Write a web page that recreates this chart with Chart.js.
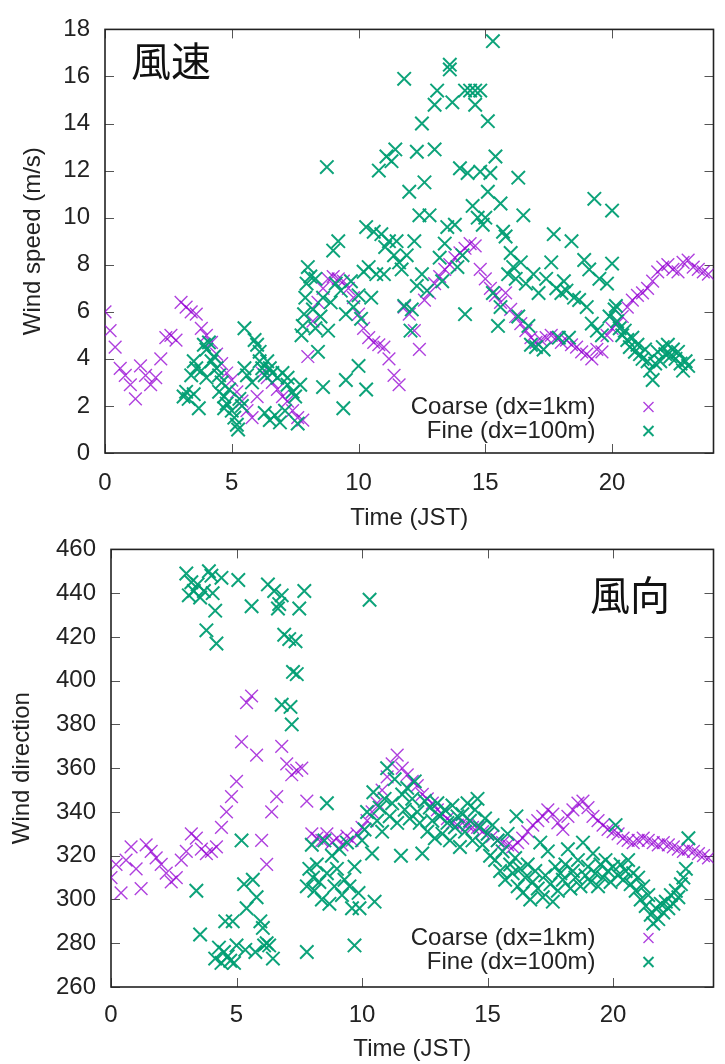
<!DOCTYPE html>
<html>
<head>
<meta charset="utf-8">
<script src="https://cdn.jsdelivr.net/npm/chart.js@4.4.1/dist/chart.umd.min.js"></script>
<style>
  html, body { margin: 0; padding: 0; background: #fff; }
  #wrap { position: relative; width: 725px; height: 1064px; }
  canvas { position: absolute; left: 0; }
  #speedChart { top: 0; }
  #dirChart { top: 520px; }
</style>
</head>
<body>
<div id="wrap">
  <canvas id="speedChart" width="725" height="533"></canvas>
  <canvas id="dirChart" width="725" height="544"></canvas>
</div>
<script>
// time axis of the coarse run (JST hours)
const timeGrid = [
  0.0, 0.2, 0.4, 0.6, 0.8, 1.0, 1.2, 1.4, 1.6, 1.8,
  2.0, 2.2, 2.4, 2.6, 2.8, 3.0, 3.2, 3.4, 3.6, 3.8,
  4.0, 4.2, 4.4, 4.6, 4.8, 5.0, 5.2, 5.4, 5.6, 5.8,
  6.0, 6.2, 6.4, 6.6, 6.8, 7.0, 7.2, 7.4, 7.6, 7.8,
  8.0, 8.2, 8.4, 8.6, 8.8, 9.0, 9.2, 9.4, 9.6, 9.8,
  10.0, 10.2, 10.4, 10.6, 10.8, 11.0, 11.2, 11.4, 11.6, 11.8,
  12.0, 12.2, 12.4, 12.6, 12.8, 13.0, 13.2, 13.4, 13.6, 13.8,
  14.0, 14.2, 14.4, 14.6, 14.8, 15.0, 15.2, 15.4, 15.6, 15.8,
  16.0, 16.2, 16.4, 16.6, 16.8, 17.0, 17.2, 17.4, 17.6, 17.8,
  18.0, 18.2, 18.4, 18.6, 18.8, 19.0, 19.2, 19.4, 19.6, 19.8,
  20.0, 20.2, 20.4, 20.6, 20.8, 21.0, 21.2, 21.4, 21.6, 21.8,
  22.0, 22.2, 22.4, 22.6, 22.8, 23.0, 23.2, 23.4, 23.6, 23.8
];

// Coarse (dx=1km) wind speed, m/s
const coarseSpeed = [
  6.0, 5.2, 4.5, 3.6, 3.3, 2.9, 2.3, 3.7, 3.3, 2.9,
  3.2, 4.0, 4.9, 5.0, 4.8, 6.4, 6.2, 6.0, 5.9, 5.3,
  5.0, 4.7, 4.2, 3.8, 3.4, 3.1, 2.6, 2.2, 1.8, 1.5,
  2.4, 3.4, 3.2, 3.0, 2.7, 2.4, 2.2, 1.8, 1.5, 1.4,
  4.1, 5.6, 6.4, 7.0, 7.4, 7.5, 7.4, 7.3, 7.0, 6.6,
  5.9, 5.3, 4.9, 4.7, 4.6, 4.5, 4.0, 3.3, 2.9, 6.2,
  5.9, 5.2, 4.4, 6.5, 6.8, 7.2, 7.5, 7.8, 8.0, 8.3,
  8.5, 8.7, 8.9, 8.8, 7.8, 7.4, 7.0, 6.7, 6.4, 6.8,
  6.1, 5.8, 5.5, 5.2, 4.9, 4.7, 4.8, 4.9, 5.0, 4.9,
  4.7, 4.8, 4.6, 4.5, 4.3, 4.2, 4.0, 4.4, 4.3, 5.0,
  5.3, 5.5, 5.8, 6.2, 6.5, 6.7, 6.8, 7.0, 7.3, 7.7,
  7.9, 8.0, 7.8, 7.7, 8.1, 8.2, 7.9, 7.8, 7.7, 7.6
];

// Coarse (dx=1km) wind direction, degrees
const coarseDir = [
  310, 316, 303, 318, 324, 314, 305, 325, 322, 319,
  316, 312, 308, 310, 318, 322, 330, 328, 323, 321,
  322, 324, 333, 340, 347, 354, 372, 390, 393, 366,
  327, 316, 340, 347, 370, 362, 357, 359, 360, 345,
  330, 328, 327, 330, 326, 328, 325, 329, 327, 330,
  333, 336, 340, 344, 350, 356, 362, 366, 360, 357,
  354, 352, 348, 346, 344, 341, 339, 337, 335, 334,
  335, 334, 333, 333, 331, 330, 329, 327, 326, 325,
  324, 326, 328, 331, 334, 336, 338, 341, 339, 335,
  332, 338, 341, 344, 345, 342, 338, 336, 334, 332,
  331, 330, 328, 327, 326, 327, 328, 327, 326, 325,
  326, 325, 324, 323, 322, 323, 322, 321, 320, 319
];

// Fine (dx=100m) wind speed, [time, m/s]
const fineSpeed = [
  [3.1, 2.4], [3.2, 2.6], [3.3, 2.3], [3.5, 2.5], [3.7, 1.9], [3.4, 3.3], [3.5, 3.9], [3.6, 3.6],
  [3.8, 3.5], [3.9, 4.6], [4.0, 4.4], [4.1, 4.7], [4.0, 3.2], [4.2, 3.9], [4.3, 4.1], [4.4, 3.6],
  [4.5, 3.3], [4.5, 2.6], [4.6, 3.0], [4.7, 2.4], [4.8, 2.1], [4.9, 2.7], [5.0, 1.8], [5.1, 1.5],
  [5.2, 1.2], [5.25, 1.0], [4.7, 1.9], [5.3, 2.3], [5.4, 2.0], [5.5, 5.3], [5.5, 3.6], [5.6, 3.3],
  [5.8, 3.0], [5.9, 4.8], [6.0, 4.6], [6.1, 4.3], [6.1, 3.9], [6.2, 3.6], [6.3, 3.3], [6.4, 3.9],
  [6.5, 3.6], [6.6, 3.4], [6.8, 3.2], [7.0, 3.4], [7.2, 3.2], [6.3, 1.7], [6.5, 1.4], [6.7, 1.6],
  [6.9, 1.3], [7.1, 1.8], [7.2, 2.9], [7.4, 2.6], [7.5, 2.4], [7.6, 1.25], [7.7, 2.9],
  [7.75, 5.0], [7.8, 5.4], [7.85, 5.9], [7.9, 6.6], [7.95, 7.2], [8.0, 7.9], [8.1, 7.5], [8.2, 6.1],
  [8.3, 5.3], [8.3, 7.4], [8.4, 4.3], [8.5, 5.8], [8.6, 2.8], [8.6, 6.6], [8.75, 12.15], [8.8, 5.2],
  [8.9, 6.4], [9.0, 8.6], [9.1, 7.2], [9.2, 9.0], [9.3, 6.9], [9.4, 1.9], [9.5, 3.1], [9.5, 5.9],
  [9.7, 7.3], [9.8, 6.2], [10.0, 3.7], [10.0, 6.7], [10.1, 5.7],
  [10.2, 7.7], [10.3, 2.7], [10.3, 9.6], [10.4, 7.9], [10.5, 6.6], [10.6, 9.4], [10.7, 7.6], [10.8, 12.0],
  [10.9, 9.3], [11.0, 7.6], [11.05, 8.75], [11.1, 12.6], [11.2, 9.0], [11.3, 12.4], [11.4, 8.4], [11.45, 12.9],
  [11.5, 9.0], [11.6, 8.1], [11.7, 7.8], [11.8, 15.9], [11.8, 6.25], [11.9, 8.4], [12.0, 11.1], [12.05, 5.2],
  [12.1, 6.1], [12.2, 9.0], [12.3, 12.8], [12.3, 7.1], [12.4, 10.1], [12.5, 14.0], [12.5, 7.6], [12.6, 11.5],
  [12.7, 6.9], [12.8, 10.1],
  [13.0, 14.8], [13.0, 12.9], [13.1, 15.4], [13.2, 8.3], [13.3, 7.3], [13.4, 8.9], [13.5, 9.6], [13.6, 16.5],
  [13.6, 16.3], [13.7, 14.9], [13.8, 9.7], [13.9, 7.9], [14.0, 12.1], [14.1, 8.4], [14.2, 15.4], [14.2, 5.9],
  [14.3, 11.9], [14.4, 15.4], [14.5, 10.5], [14.6, 14.8], [14.6, 15.4], [14.7, 10.0], [14.8, 11.95], [14.8, 15.4],
  [14.9, 9.7], [15.0, 10.0], [15.1, 14.1], [15.1, 11.1], [15.2, 11.9], [15.3, 17.5], [15.3, 6.8], [15.4, 12.6],
  [15.5, 5.4], [15.6, 10.6], [15.6, 6.2],
  [15.7, 9.4], [15.8, 9.2], [15.9, 7.6], [16.0, 8.5], [16.1, 7.9], [16.2, 7.4], [16.3, 11.7], [16.3, 5.8],
  [16.4, 8.1], [16.5, 10.1], [16.6, 7.2], [16.7, 5.4], [16.8, 4.6], [16.9, 7.6], [17.0, 4.5], [17.1, 6.8],
  [17.3, 4.4], [17.4, 7.4], [17.6, 8.1], [17.7, 9.3], [17.8, 7.0], [17.9, 4.9], [18.0, 6.8], [18.1, 7.3],
  [18.2, 6.9], [18.3, 4.9], [18.4, 9.0], [18.5, 6.6], [18.7, 6.5], [18.9, 8.2], [19.0, 6.2], [19.1, 7.8],
  [19.2, 5.5], [19.3, 10.8], [19.4, 5.2], [19.5, 7.4], [19.6, 5.0], [19.8, 7.2], [19.9, 5.8], [20.0, 10.3],
  [20.0, 8.05],
  [20.1, 6.1], [20.15, 6.25], [20.2, 5.6], [20.3, 5.3], [20.4, 5.0], [20.5, 5.2], [20.6, 4.8], [20.7, 4.5],
  [20.8, 4.9], [20.9, 4.3], [21.0, 4.6], [21.1, 4.2], [21.2, 4.0], [21.3, 4.4], [21.4, 3.9], [21.5, 3.5],
  [21.6, 3.1], [21.7, 3.8], [21.8, 4.3], [21.9, 3.9], [22.0, 4.5], [22.1, 4.2], [22.2, 4.6], [22.3, 4.1],
  [22.4, 4.4], [22.5, 4.0], [22.6, 4.3], [22.7, 3.8], [22.8, 3.5], [22.9, 3.9], [23.0, 3.7]
];

// Fine (dx=100m) wind direction, [time, degrees]
const fineDir = [
  [3.0, 449], [3.1, 439], [3.2, 445], [3.3, 441], [3.45, 444], [3.55, 438], [3.7, 441], [3.8, 423],
  [3.9, 450], [4.0, 448], [4.05, 440], [4.15, 432], [4.2, 417], [4.4, 447], [5.07, 446], [5.6, 434],
  [6.25, 444], [6.5, 441], [6.65, 433], [6.7, 435], [6.8, 439], [6.9, 421], [7.1, 419], [7.15, 388],
  [7.2, 380], [7.25, 404], [7.35, 418], [7.4, 403], [7.5, 433], [7.7, 441], [6.8, 389],
  [3.4, 304], [3.55, 284], [4.15, 273], [4.3, 278], [4.4, 271], [4.5, 276], [4.55, 290], [4.65, 274],
  [4.75, 272], [4.85, 290], [4.9, 271], [5.0, 279], [5.2, 327], [5.3, 307], [5.35, 277], [5.4, 296],
  [5.65, 309], [5.75, 276], [5.8, 301], [5.95, 290], [6.05, 287], [6.1, 279], [6.2, 280], [6.3, 279],
  [6.45, 273], [7.8, 276],
  [7.8, 306], [7.9, 314], [8.0, 325], [8.05, 310], [8.1, 304], [8.2, 316], [8.3, 308], [8.4, 300],
  [8.5, 327], [8.6, 344], [8.6, 312], [8.7, 298], [8.8, 320], [8.9, 306], [9.0, 314], [9.1, 323],
  [9.2, 302], [9.3, 309], [9.4, 326], [9.5, 306], [9.6, 296], [9.7, 279], [9.7, 315], [9.86, 303],
  [9.9, 296], [10.0, 327],
  [10.1, 332], [10.2, 340], [10.3, 437], [10.4, 321], [10.45, 349], [10.5, 299], [10.6, 336], [10.7, 342],
  [10.8, 331], [10.9, 346], [11.0, 360], [11.1, 338], [11.2, 344], [11.3, 355], [11.4, 335], [11.55, 320],
  [11.6, 348], [11.7, 341], [11.8, 351], [11.9, 337], [12.0, 346], [12.1, 354], [12.2, 340], [12.3, 335],
  [12.4, 321], [12.5, 345], [12.6, 331], [12.7, 342], [12.8, 336], [12.9, 328], [13.0, 344], [13.1, 338],
  [13.2, 330], [13.3, 341], [13.4, 335], [13.5, 327], [13.6, 343], [13.7, 333], [13.8, 338], [13.9, 324],
  [14.0, 339], [14.1, 331], [14.2, 344], [14.3, 336], [14.4, 327], [14.5, 341], [14.6, 346], [14.7, 333],
  [14.8, 325], [14.9, 337],
  [15.0, 330], [15.1, 320], [15.2, 334], [15.3, 318], [15.4, 327], [15.5, 313], [15.6, 322], [15.7, 309],
  [15.8, 330], [15.9, 316], [16.0, 312], [16.1, 319], [16.15, 338], [16.2, 306], [16.3, 314], [16.4, 303],
  [16.5, 310], [16.6, 316], [16.7, 300], [16.8, 308], [16.9, 313], [17.0, 305], [17.1, 326], [17.2, 301],
  [17.3, 311], [17.4, 322], [17.5, 307], [17.6, 299], [17.7, 315], [17.8, 304], [17.9, 312], [18.0, 309],
  [18.1, 316], [18.2, 323], [18.3, 305], [18.4, 313], [18.5, 310], [18.6, 318], [18.7, 306], [18.8, 326],
  [18.9, 311], [19.0, 315], [19.1, 308], [19.2, 321], [19.3, 312], [19.4, 306], [19.5, 316], [19.6, 310],
  [19.7, 318], [19.8, 313], [19.9, 308], [20.0, 315], [20.1, 334], [20.2, 311], [20.3, 316], [20.4, 309],
  [20.5, 313], [20.6, 318], [20.7, 307], [20.8, 312], [20.9, 304], [21.0, 310], [21.1, 300], [21.2, 306],
  [21.3, 297], [21.4, 302], [21.5, 293], [21.6, 289], [21.7, 296], [21.8, 291], [21.9, 298], [22.0, 294],
  [22.1, 299], [22.2, 296], [22.3, 302], [22.4, 298], [22.5, 304], [22.6, 301], [22.7, 307], [22.8, 310],
  [22.9, 314], [23.0, 328]
];

const timeTicks = [0, 5, 10, 15, 20];
const speedTicks = [0, 2, 4, 6, 8, 10, 12, 14, 16, 18];
const dirTicks = [260, 280, 300, 320, 340, 360, 380, 400, 420, 440, 460];
const seriesNames = ['Coarse (dx=1km)', 'Fine (dx=100m)'];

const PURPLE = 'rgba(148, 0, 211, 0.75)';
const GREEN = 'rgba(0, 158, 115, 0.95)';
const FONT = '"Liberation Sans", Arial, sans-serif';
const TEXT = '#222';

function drawX(ctx, x, y, r, color, width) {
  ctx.strokeStyle = color;
  ctx.lineWidth = width;
  ctx.beginPath();
  ctx.moveTo(x - r, y - r); ctx.lineTo(x + r, y + r);
  ctx.moveTo(x - r, y + r); ctx.lineTo(x + r, y - r);
  ctx.stroke();
}

// gnuplot style frame: box, inward ticks on all sides, key and corner label
const frame = {
  id: 'frame',
  beforeDatasetsDraw(chart) {
    const {ctx, chartArea: a, scales: {x, y}} = chart;
    ctx.save();
    ctx.strokeStyle = '#555';
    ctx.lineWidth = 1;
    ctx.beginPath();
    x.ticks.forEach(t => {
      const px = Math.round(x.getPixelForValue(t.value)) + 0.5;
      ctx.moveTo(px, a.bottom); ctx.lineTo(px, a.bottom - 9);
      ctx.moveTo(px, a.top); ctx.lineTo(px, a.top + 9);
    });
    y.ticks.forEach(t => {
      const py = Math.round(y.getPixelForValue(t.value)) + 0.5;
      ctx.moveTo(a.left, py); ctx.lineTo(a.left + 9, py);
      ctx.moveTo(a.right, py); ctx.lineTo(a.right - 9, py);
    });
    ctx.stroke();
    ctx.strokeStyle = '#222';
    ctx.lineWidth = 1.6;
    ctx.strokeRect(a.left, a.top, a.right - a.left, a.bottom - a.top);
    ctx.restore();
  },
  afterDatasetsDraw(chart, args, opts) {
    const {ctx, chartArea: a} = chart;
    ctx.save();
    ctx.font = '24px ' + FONT;
    ctx.fillStyle = TEXT;
    ctx.textAlign = 'right';
    ctx.textBaseline = 'middle';
    const rows = [[PURPLE, 1.4], [GREEN, 2]];
    seriesNames.forEach((name, i) => {
      const yy = a.bottom - opts.keyBottom + i * 24;
      ctx.fillText(name, a.right - 118, yy);
      drawX(ctx, a.right - 65, yy, 5, rows[i][0], rows[i][1]);
    });
    ctx.font = '40px "Noto Sans CJK JP", sans-serif';
    ctx.textAlign = 'left';
    ctx.fillStyle = '#111';
    ctx.fillText(opts.label, opts.labelX, opts.labelY);
    ctx.restore();
  }
};

function makeChart(id, cfg) {
  const ctx = document.getElementById(id).getContext('2d');
  return new Chart(ctx, {
    type: 'scatter',
    data: {
      datasets: [{
        label: seriesNames[1],
        data: cfg.fine.map(p => ({x: p[0], y: p[1]})),
        pointStyle: 'crossRot',
        pointRadius: 9.5,
        pointBorderWidth: 2,
        borderColor: GREEN,
        backgroundColor: GREEN
      }, {
        label: seriesNames[0],
        data: timeGrid.map((t, i) => ({x: t, y: cfg.coarse[i]})),
        pointStyle: 'crossRot',
        pointRadius: 9,
        pointBorderWidth: 1.4,
        borderColor: PURPLE,
        backgroundColor: PURPLE
      }]
    },
    options: {
      responsive: false,
      devicePixelRatio: 1,
      animation: false,
      events: [],
      layout: { padding: cfg.padding },
      plugins: {
        legend: { display: false },
        tooltip: { enabled: false },
        frame: cfg.frame
      },
      scales: {
        x: {
          type: 'linear',
          min: 0,
          max: 24,
          afterBuildTicks: axis => { axis.ticks = timeTicks.map(v => ({value: v})); },
          afterFit: axis => { axis.height = cfg.xHeight; },
          grid: { display: false, drawTicks: false },
          border: { display: false },
          ticks: { color: TEXT, font: { family: FONT, size: 24 }, padding: cfg.xPad, maxRotation: 0 },
          title: { display: true, text: 'Time (JST)', color: TEXT, font: { family: FONT, size: 24 }, padding: { top: 0, bottom: cfg.xTitlePad } }
        },
        y: {
          type: 'linear',
          min: cfg.yMin,
          max: cfg.yMax,
          afterBuildTicks: axis => { axis.ticks = cfg.yTicks.map(v => ({value: v})); },
          afterFit: axis => { axis.width = cfg.yWidth; },
          grid: { display: false, drawTicks: false },
          border: { display: false },
          ticks: { color: TEXT, font: { family: FONT, size: 24 }, padding: 15 },
          title: { display: true, text: cfg.yTitle, color: TEXT, font: { family: FONT, size: 24 }, padding: { top: cfg.yTitlePad, bottom: 0 } }
        }
      }
    },
    plugins: [frame]
  });
}

makeChart('speedChart', {
  fine: fineSpeed, coarse: coarseSpeed,
  yMin: 0, yMax: 18, yTicks: speedTicks, yTitle: 'Wind speed (m/s)',
  padding: { top: 22, right: 5, left: 0, bottom: 0 },
  yWidth: 105, xHeight: 80, xPad: 16, xTitlePad: 0, yTitlePad: 19,
  frame: { label: '風速', labelX: 131, labelY: 61, keyBottom: 46 }
});

makeChart('dirChart', {
  fine: fineDir, coarse: coarseDir,
  yMin: 260, yMax: 460, yTicks: dirTicks, yTitle: 'Wind direction',
  padding: { top: 26, right: 4, left: 0, bottom: 0 },
  yWidth: 111, xHeight: 77, xPad: 14, xTitlePad: 0, yTitlePad: 8,
  frame: { label: '風向', labelX: 590, labelY: 75, keyBottom: 49 }
});
</script>
</body>
</html>
